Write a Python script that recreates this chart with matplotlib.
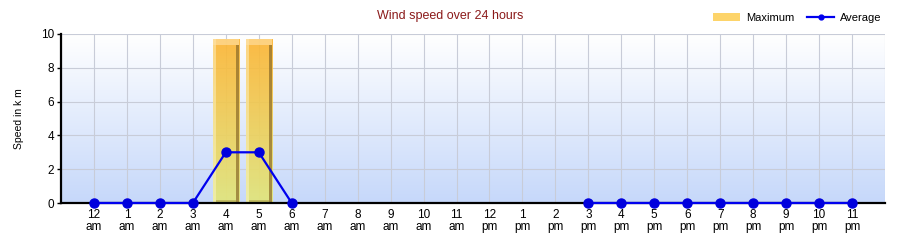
import numpy as np
import matplotlib
matplotlib.use("Agg")
import matplotlib.pyplot as plt
from matplotlib.patches import Rectangle
from matplotlib.lines import Line2D
from matplotlib.colors import LinearSegmentedColormap

hours = ["12", "1", "2", "3", "4", "5", "6", "7", "8", "9", "10", "11",
         "12", "1", "2", "3", "4", "5", "6", "7", "8", "9", "10", "11"]
periods = ["am"] * 12 + ["pm"] * 12
maximum = [0, 0, 0, 0, 9.7, 9.7, 0, 0, 0, 0, 0, 0,
           0, 0, 0, 0, 0, 0, 0, 0, 0, 0, 0, 0]
average = [0, 0, 0, 0, 3, 3, 0, np.nan, np.nan, np.nan, np.nan, np.nan,
           np.nan, np.nan, np.nan, 0, 0, 0, 0, 0, 0, 0, 0, 0]

plt.rcParams['font.family'] = ['Liberation Sans', 'DejaVu Sans']
fig = plt.figure(figsize=(9, 2.4), dpi=100)
ax = fig.add_axes([61/900, 37/240, 824/900, 169/240])

x = np.arange(len(hours))
ax.set_xlim(-1, 24)
ax.set_ylim(0, 10)

# background gradient
bg = LinearSegmentedColormap.from_list("bg", ["#c6d8fa", "#ffffff"])
grad = np.linspace(0, 1, 256).reshape(-1, 1)
ax.imshow(grad, aspect="auto", cmap=bg, origin="lower",
          extent=[-1, 24, 0, 10], zorder=0)

ax.set_axisbelow(True)
ax.grid(True, which="major", axis="y", color="#c8ccd8", lw=0.8, zorder=1)
for xv in np.arange(-1, 25):
    ax.axvline(xv, color="#c8ccd8", lw=0.8, zorder=1)

# bars with gradient
barcm = LinearSegmentedColormap.from_list("bar", ["#e2e67a", "#fcb535"])
width = 0.8
for xi, h in zip(x, maximum):
    if h <= 0:
        continue
    rect = Rectangle((xi - width/2, 0), width, h, facecolor="none",
                     edgecolor="none", zorder=2)
    ax.add_patch(rect)
    im = ax.imshow(grad, aspect="auto", cmap=barcm, origin="lower",
                   extent=[xi - width/2, xi + width/2, 0, h], zorder=2,
                   alpha=0.92)
    im.set_clip_path(rect)
    ax.add_patch(Rectangle((xi - width/2, 0), 0.09, h, facecolor="#fff8d0",
                           alpha=0.45, edgecolor="none", zorder=3))
    ax.add_patch(Rectangle((xi - width/2, h - 0.35), width, 0.35,
                           facecolor="#ffe3a8", alpha=0.6, edgecolor="none",
                           zorder=3))
    ax.add_patch(Rectangle((xi + width/2 - 0.1, 0), 0.1, h - 0.35,
                           facecolor="#8a6a28", alpha=0.7, edgecolor="none",
                           zorder=3))
    ax.add_patch(Rectangle((xi - width/2 + 0.09, 0), width - 0.19, 0.15,
                           facecolor="#a09038", alpha=0.45, edgecolor="none",
                           zorder=3))

ax.plot(x, average, color="#0000ee", lw=1.6, marker="o", ms=6.5,
        markerfacecolor="#0000dd", markeredgecolor="#0000dd", zorder=5,
        clip_on=False)

ax.set_xticks(x)
ax.set_xticklabels([f"{h}\n{p}" for h, p in zip(hours, periods)],
                   fontsize=8.5, linespacing=1.1)
ax.tick_params(axis="x", length=0, pad=4)
ax.set_yticks([0, 2, 4, 6, 8, 10])
ax.tick_params(axis="y", labelsize=8.5, length=3, width=1, pad=2)

for s in ["top", "right"]:
    ax.spines[s].set_visible(False)
ax.spines["left"].set_linewidth(1.6)
ax.spines["bottom"].set_linewidth(1.6)
ax.spines["left"].set_zorder(6)
ax.spines["bottom"].set_zorder(4)

ax.set_ylabel("Speed in k m", fontsize=7.5, labelpad=12)

fig.text(0.5, 1 - 16/240, "Wind speed over 24 hours", ha="center",
         va="center", fontsize=9, color="#8b1a1a")

handles = [Rectangle((0, 0), 1, 1, facecolor="#fdd46a", edgecolor="none"),
           Line2D([0], [0], color="#0000ee", lw=1.6, marker="o", ms=3.5)]
fig.legend(handles, ["Maximum", "Average"], loc="center right",
           bbox_to_anchor=(0.99, 1 - 18/240), ncol=2, frameon=False,
           fontsize=8, handlelength=2.4, handleheight=0.7,
           columnspacing=1.2, handletextpad=0.5)

fig.savefig("out.png", dpi=100)
